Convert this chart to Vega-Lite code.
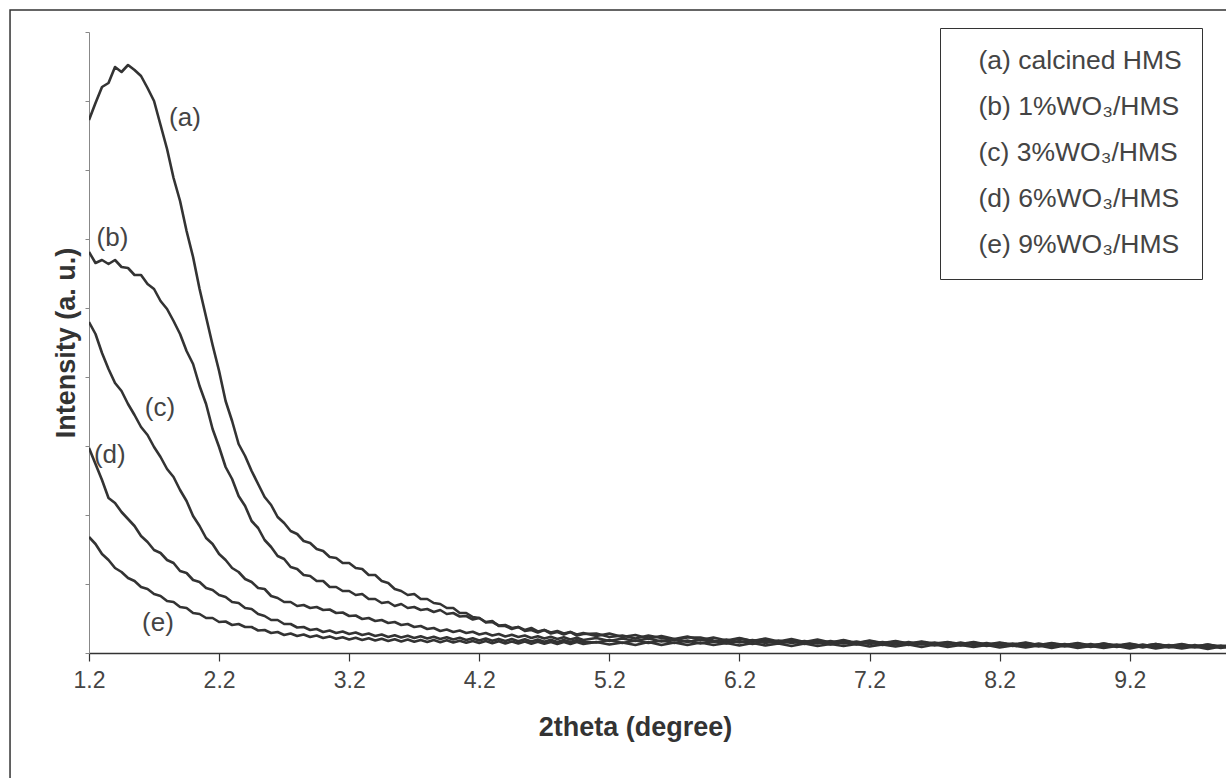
{
  "$schema": "https://vega.github.io/schema/vega-lite/v6.json",
  "width": 1137,
  "height": 621,
  "autosize": {"type": "none"},
  "padding": {"left": 89, "top": 32, "right": 0, "bottom": 125},
  "background": "white",
  "config": {
    "view": {"stroke": null},
    "font": "Liberation Sans",
    "axis": {"grid": false, "labelFont": "Liberation Sans", "titleFont": "Liberation Sans"}
  },
  "datasets": {
    "xrd": [
      {"x": 1.2, "a": 5330, "b": 4010, "c": 3310, "d": 2050, "e": 1160},
      {"x": 1.25, "a": 5500, "b": 3900, "c": 3190, "d": 1890, "e": 1090},
      {"x": 1.3, "a": 5660, "b": 3930, "c": 3000, "d": 1730, "e": 990},
      {"x": 1.35, "a": 5700, "b": 3890, "c": 2840, "d": 1550, "e": 930},
      {"x": 1.4, "a": 5860, "b": 3930, "c": 2700, "d": 1500, "e": 850},
      {"x": 1.45, "a": 5810, "b": 3860, "c": 2620, "d": 1410, "e": 810},
      {"x": 1.5, "a": 5880, "b": 3850, "c": 2490, "d": 1340, "e": 750},
      {"x": 1.55, "a": 5830, "b": 3780, "c": 2380, "d": 1270, "e": 720},
      {"x": 1.6, "a": 5770, "b": 3780, "c": 2260, "d": 1170, "e": 660},
      {"x": 1.65, "a": 5650, "b": 3690, "c": 2180, "d": 1110, "e": 640},
      {"x": 1.7, "a": 5520, "b": 3640, "c": 2060, "d": 1030, "e": 590},
      {"x": 1.75, "a": 5280, "b": 3520, "c": 1960, "d": 1000, "e": 570},
      {"x": 1.8, "a": 5040, "b": 3440, "c": 1840, "d": 930, "e": 520},
      {"x": 1.85, "a": 4750, "b": 3320, "c": 1760, "d": 900, "e": 510},
      {"x": 1.9, "a": 4520, "b": 3190, "c": 1630, "d": 820, "e": 460},
      {"x": 1.95, "a": 4220, "b": 3020, "c": 1520, "d": 800, "e": 450},
      {"x": 2.0, "a": 3960, "b": 2890, "c": 1370, "d": 730, "e": 400},
      {"x": 2.05, "a": 3640, "b": 2670, "c": 1270, "d": 710, "e": 390},
      {"x": 2.1, "a": 3360, "b": 2490, "c": 1150, "d": 650, "e": 350},
      {"x": 2.15, "a": 3080, "b": 2240, "c": 1090, "d": 630, "e": 350},
      {"x": 2.2, "a": 2820, "b": 2060, "c": 990, "d": 580, "e": 310},
      {"x": 2.25, "a": 2520, "b": 1860, "c": 930, "d": 560, "e": 315},
      {"x": 2.3, "a": 2320, "b": 1740, "c": 850, "d": 510, "e": 280},
      {"x": 2.35, "a": 2090, "b": 1570, "c": 810, "d": 500, "e": 290},
      {"x": 2.4, "a": 1970, "b": 1470, "c": 740, "d": 450, "e": 260},
      {"x": 2.45, "a": 1820, "b": 1320, "c": 710, "d": 440, "e": 260},
      {"x": 2.5, "a": 1690, "b": 1250, "c": 650, "d": 390, "e": 225},
      {"x": 2.55, "a": 1560, "b": 1130, "c": 640, "d": 370, "e": 230},
      {"x": 2.6, "a": 1480, "b": 1060, "c": 570, "d": 330, "e": 200},
      {"x": 2.65, "a": 1360, "b": 970, "c": 550, "d": 330, "e": 210},
      {"x": 2.7, "a": 1300, "b": 940, "c": 510, "d": 290, "e": 180},
      {"x": 2.75, "a": 1220, "b": 860, "c": 510, "d": 290, "e": 195},
      {"x": 2.8, "a": 1190, "b": 840, "c": 470, "d": 255, "e": 170},
      {"x": 2.85, "a": 1120, "b": 780, "c": 480, "d": 260, "e": 185},
      {"x": 2.9, "a": 1100, "b": 770, "c": 450, "d": 230, "e": 160},
      {"x": 2.95, "a": 1040, "b": 720, "c": 460, "d": 240, "e": 175},
      {"x": 3.0, "a": 1020, "b": 720, "c": 430, "d": 210, "e": 150},
      {"x": 3.05, "a": 960, "b": 660, "c": 435, "d": 225, "e": 166},
      {"x": 3.1, "a": 950, "b": 660, "c": 400, "d": 200, "e": 142},
      {"x": 3.15, "a": 900, "b": 620, "c": 405, "d": 215, "e": 158},
      {"x": 3.2, "a": 900, "b": 620, "c": 370, "d": 190, "e": 135},
      {"x": 3.25, "a": 850, "b": 580, "c": 375, "d": 205, "e": 152},
      {"x": 3.3, "a": 840, "b": 590, "c": 340, "d": 180, "e": 130},
      {"x": 3.35, "a": 780, "b": 540, "c": 350, "d": 195, "e": 148},
      {"x": 3.4, "a": 780, "b": 540, "c": 320, "d": 170, "e": 125},
      {"x": 3.45, "a": 720, "b": 500, "c": 330, "d": 185, "e": 142},
      {"x": 3.5, "a": 700, "b": 510, "c": 300, "d": 160, "e": 120},
      {"x": 3.55, "a": 640, "b": 470, "c": 310, "d": 178, "e": 138},
      {"x": 3.6, "a": 620, "b": 490, "c": 280, "d": 155, "e": 115},
      {"x": 3.65, "a": 580, "b": 450, "c": 290, "d": 172, "e": 134},
      {"x": 3.7, "a": 590, "b": 460, "c": 260, "d": 150, "e": 112},
      {"x": 3.75, "a": 540, "b": 430, "c": 270, "d": 168, "e": 131},
      {"x": 3.8, "a": 540, "b": 440, "c": 240, "d": 145, "e": 110},
      {"x": 3.85, "a": 500, "b": 410, "c": 250, "d": 162, "e": 129},
      {"x": 3.9, "a": 490, "b": 430, "c": 220, "d": 140, "e": 108},
      {"x": 3.95, "a": 450, "b": 390, "c": 235, "d": 158, "e": 127},
      {"x": 4.0, "a": 450, "b": 400, "c": 210, "d": 135, "e": 105},
      {"x": 4.05, "a": 400, "b": 365, "c": 225, "d": 153, "e": 123},
      {"x": 4.1, "a": 400, "b": 370, "c": 200, "d": 130, "e": 102},
      {"x": 4.15, "a": 360, "b": 335, "c": 213, "d": 148, "e": 121},
      {"x": 4.2, "a": 350, "b": 350, "c": 185, "d": 125, "e": 100},
      {"x": 4.25, "a": 310, "b": 305, "c": 200, "d": 144, "e": 119},
      {"x": 4.3, "a": 320, "b": 310, "c": 175, "d": 122, "e": 98},
      {"x": 4.35, "a": 270, "b": 275, "c": 190, "d": 141, "e": 117},
      {"x": 4.4, "a": 270, "b": 280, "c": 165, "d": 120, "e": 96},
      {"x": 4.45, "a": 240, "b": 250, "c": 182, "d": 139, "e": 115},
      {"x": 4.5, "a": 260, "b": 260, "c": 160, "d": 118, "e": 95},
      {"x": 4.55, "a": 220, "b": 230, "c": 175, "d": 137, "e": 114},
      {"x": 4.6, "a": 230, "b": 250, "c": 150, "d": 115, "e": 93},
      {"x": 4.65, "a": 205, "b": 215, "c": 168, "d": 134, "e": 112},
      {"x": 4.7, "a": 230, "b": 230, "c": 145, "d": 113, "e": 92},
      {"x": 4.75, "a": 195, "b": 205, "c": 162, "d": 132, "e": 111},
      {"x": 4.8, "a": 210, "b": 220, "c": 140, "d": 111, "e": 91},
      {"x": 4.85, "a": 185, "b": 195, "c": 158, "d": 130, "e": 110},
      {"x": 4.9, "a": 210, "b": 210, "c": 135, "d": 110, "e": 90},
      {"x": 4.95, "a": 175, "b": 185, "c": 152, "d": 130, "e": 110},
      {"x": 5.0, "a": 190, "b": 200, "c": 130, "d": 110, "e": 90},
      {"x": 5.1, "a": 195, "b": 170, "c": 150, "d": 105, "e": 110},
      {"x": 5.2, "a": 160, "b": 195, "c": 120, "d": 130, "e": 85},
      {"x": 5.3, "a": 175, "b": 160, "c": 145, "d": 100, "e": 105},
      {"x": 5.4, "a": 145, "b": 180, "c": 120, "d": 125, "e": 80},
      {"x": 5.5, "a": 175, "b": 145, "c": 145, "d": 100, "e": 110},
      {"x": 5.6, "a": 150, "b": 170, "c": 115, "d": 125, "e": 80},
      {"x": 5.7, "a": 130, "b": 140, "c": 140, "d": 100, "e": 105},
      {"x": 5.8, "a": 155, "b": 165, "c": 110, "d": 125, "e": 80},
      {"x": 5.9, "a": 155, "b": 130, "c": 135, "d": 95, "e": 105},
      {"x": 6.0, "a": 125, "b": 155, "c": 110, "d": 120, "e": 80},
      {"x": 6.1, "a": 115, "b": 125, "c": 135, "d": 95, "e": 100},
      {"x": 6.2, "a": 145, "b": 150, "c": 105, "d": 120, "e": 75},
      {"x": 6.3, "a": 120, "b": 120, "c": 130, "d": 90, "e": 100},
      {"x": 6.4, "a": 135, "b": 145, "c": 100, "d": 115, "e": 75},
      {"x": 6.5, "a": 105, "b": 115, "c": 125, "d": 95, "e": 95},
      {"x": 6.6, "a": 130, "b": 140, "c": 100, "d": 115, "e": 70},
      {"x": 6.7, "a": 105, "b": 110, "c": 120, "d": 90, "e": 95},
      {"x": 6.8, "a": 125, "b": 135, "c": 95, "d": 110, "e": 70},
      {"x": 6.9, "a": 100, "b": 105, "c": 120, "d": 85, "e": 90},
      {"x": 7.0, "a": 125, "b": 130, "c": 95, "d": 110, "e": 70},
      {"x": 7.1, "a": 95, "b": 100, "c": 115, "d": 85, "e": 90},
      {"x": 7.2, "a": 120, "b": 125, "c": 90, "d": 105, "e": 65},
      {"x": 7.3, "a": 95, "b": 100, "c": 110, "d": 80, "e": 85},
      {"x": 7.4, "a": 115, "b": 120, "c": 85, "d": 105, "e": 65},
      {"x": 7.5, "a": 90, "b": 95, "c": 110, "d": 80, "e": 85},
      {"x": 7.6, "a": 110, "b": 115, "c": 85, "d": 100, "e": 60},
      {"x": 7.7, "a": 85, "b": 95, "c": 105, "d": 75, "e": 85},
      {"x": 7.8, "a": 105, "b": 110, "c": 80, "d": 100, "e": 60},
      {"x": 7.9, "a": 85, "b": 90, "c": 105, "d": 75, "e": 80},
      {"x": 8.0, "a": 105, "b": 110, "c": 80, "d": 95, "e": 60},
      {"x": 8.1, "a": 80, "b": 85, "c": 100, "d": 70, "e": 80},
      {"x": 8.2, "a": 100, "b": 105, "c": 75, "d": 95, "e": 55},
      {"x": 8.3, "a": 80, "b": 85, "c": 95, "d": 70, "e": 75},
      {"x": 8.4, "a": 100, "b": 105, "c": 70, "d": 90, "e": 55},
      {"x": 8.5, "a": 75, "b": 80, "c": 95, "d": 65, "e": 75},
      {"x": 8.6, "a": 95, "b": 100, "c": 70, "d": 90, "e": 50},
      {"x": 8.7, "a": 75, "b": 80, "c": 90, "d": 65, "e": 75},
      {"x": 8.8, "a": 95, "b": 100, "c": 65, "d": 85, "e": 50},
      {"x": 8.9, "a": 70, "b": 75, "c": 90, "d": 60, "e": 70},
      {"x": 9.0, "a": 95, "b": 95, "c": 65, "d": 85, "e": 50},
      {"x": 9.1, "a": 70, "b": 75, "c": 85, "d": 60, "e": 70},
      {"x": 9.2, "a": 90, "b": 95, "c": 60, "d": 80, "e": 45},
      {"x": 9.3, "a": 70, "b": 70, "c": 85, "d": 55, "e": 70},
      {"x": 9.4, "a": 90, "b": 90, "c": 60, "d": 80, "e": 45},
      {"x": 9.5, "a": 65, "b": 70, "c": 80, "d": 55, "e": 65},
      {"x": 9.6, "a": 85, "b": 90, "c": 55, "d": 75, "e": 45},
      {"x": 9.7, "a": 65, "b": 65, "c": 80, "d": 55, "e": 65},
      {"x": 9.8, "a": 85, "b": 85, "c": 55, "d": 75, "e": 40},
      {"x": 9.9, "a": 60, "b": 65, "c": 75, "d": 50, "e": 65},
      {"x": 10.0, "a": 80, "b": 80, "c": 55, "d": 70, "e": 45}
    ],
    "tags": [
      {"tag": "(a)", "x": 1.938, "y": 5350},
      {"tag": "(b)", "x": 1.38, "y": 4150},
      {"tag": "(c)", "x": 1.746, "y": 2450},
      {"tag": "(d)", "x": 1.36, "y": 1980},
      {"tag": "(e)", "x": 1.73, "y": 300}
    ]
  },
  "layer": [
    {
      "data": {"values": [{}]},
      "mark": {"type": "rect", "fill": null, "fillOpacity": 0, "stroke": "#333333", "strokeWidth": 1.5, "clip": false},
      "encoding": {
        "x": {"datum": 0.593, "type": "quantitative", "scale": {"domain": [1.2, 9.94], "nice": false, "zero": false}},
        "x2": {"datum": 11},
        "y": {"datum": 6430, "type": "quantitative", "scale": {"domain": [0, 6210], "nice": false}},
        "y2": {"datum": -2000}
      }
    },
    {
      "data": {"name": "xrd"},
      "transform": [{"fold": ["a", "b", "c", "d", "e"], "as": ["series", "intensity"]}],
      "mark": {"type": "line", "strokeWidth": 2.6, "strokeJoin": "round", "clip": true},
      "encoding": {
        "x": {
          "field": "x", "type": "quantitative",
          "scale": {"domain": [1.2, 9.94], "nice": false, "zero": false},
          "axis": {
            "values": [1.2, 2.2, 3.2, 4.2, 5.2, 6.2, 7.2, 8.2, 9.2],
            "format": ".1f",
            "labelFlush": false,
            "labelFontSize": 23, "labelColor": "#444444", "labelPadding": 8,
            "tickSize": 8, "tickColor": "#333333", "tickWidth": 1.2,
            "domainColor": "#333333", "domainWidth": 1.5,
            "title": "2theta (degree)", "titleFontSize": 27, "titleFontWeight": "bold",
            "titleColor": "#333333", "titlePadding": 22, "titleX": 546
          }
        },
        "y": {
          "field": "intensity", "type": "quantitative",
          "scale": {"domain": [0, 6210], "nice": false},
          "axis": {
            "values": [0, 690, 1380, 2070, 2760, 3450, 4140, 4830, 5520, 6210],
            "labels": false,
            "tickSize": 4, "tickColor": "#888888",
            "domainColor": "#888888", "domainWidth": 1,
            "title": "Intensity (a. u.)", "titleFontSize": 27, "titleFontWeight": "bold",
            "titleColor": "#333333", "titlePadding": 4
          }
        },
        "color": {
          "field": "series", "type": "nominal",
          "scale": {"domain": ["a", "b", "c", "d", "e"], "range": ["#333333", "#333333", "#333333", "#333333", "#333333"]},
          "legend": {
            "title": null,
            "orient": "none", "legendX": 851, "legendY": -4,
            "padding": 20,
            "strokeColor": "#333333", "fillColor": "white",
            "symbolType": "stroke", "symbolSize": 0, "symbolStrokeWidth": 0, "symbolOpacity": 0,
            "labelOffset": -8, "rowPadding": 19,
            "labelFontSize": 26.5, "labelColor": "#444444", "labelFont": "Liberation Sans", "labelLimit": 400,
            "labelExpr": "datum.value == 'a' ? '(a) calcined HMS' : datum.value == 'b' ? '(b) 1%WO₃/HMS' : datum.value == 'c' ? '(c) 3%WO₃/HMS' : datum.value == 'd' ? '(d) 6%WO₃/HMS' : '(e) 9%WO₃/HMS'"
          }
        }
      }
    },
    {
      "data": {"name": "tags"},
      "mark": {"type": "text", "fontSize": 26, "color": "#444444", "font": "Liberation Sans"},
      "encoding": {
        "x": {"field": "x", "type": "quantitative"},
        "y": {"field": "y", "type": "quantitative"},
        "text": {"field": "tag"}
      }
    }
  ]
}
